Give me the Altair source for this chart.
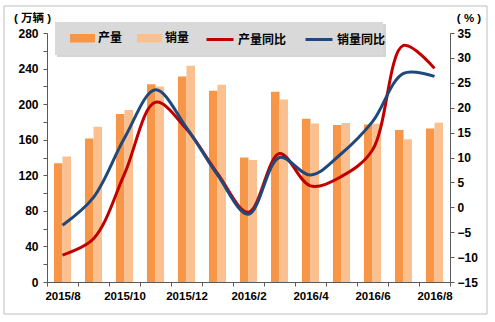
import altair as alt
import pandas as pd

FONT = "Liberation Sans, Noto Sans CJK SC"

months = ["2015/8", "2015/9", "2015/10", "2015/11", "2015/12", "2016/1", "2016/2",
          "2016/3", "2016/4", "2016/5", "2016/6", "2016/7", "2016/8"]
label_months = ["2015/8", "2015/10", "2015/12", "2016/2", "2016/4", "2016/6", "2016/8"]
production = [133.5, 161.5, 189.0, 222.5, 231.0, 215.0, 140.0, 214.0, 183.5, 176.5, 177.0, 171.0, 172.5]
sales = [141.0, 174.5, 193.5, 219.9, 243.1, 221.8, 137.3, 205.1, 178.2, 178.7, 177.9, 160.5, 179.0]
prod_yoy = [-9.6, -6.3, 6.7, 21.1, 15.7, 6.8, -1.0, 10.8, 4.3, 6.2, 11.5, 32.5, 27.9]
sales_yoy = [-3.6, 2.0, 13.9, 23.6, 16.0, 6.5, -1.4, 10.0, 6.5, 10.8, 17.2, 26.9, 26.3]
bar_series = ["产量", "销量"]
line_series = ["产量同比", "销量同比"]
bar_colors = ["#F79646", "#FAC090"]
line_colors = ["#C00000", "#1F497D"]

n = len(months)
bars_df = pd.DataFrame({
    "month": months * 2,
    "series": [bar_series[0]] * n + [bar_series[1]] * n,
    "value": production + sales,
})
lines_df = pd.DataFrame({
    "month": months * 2,
    "series": [line_series[0]] * n + [line_series[1]] * n,
    "value": prod_yoy + sales_yoy,
})
one = pd.DataFrame({"k": [0]})

x_scale = alt.Scale(domain=months, paddingInner=0, paddingOuter=0)
label_expr = "indexof(" + str(label_months) + ", datum.value) >= 0 ? datum.label : ''"

frame = alt.Chart(one).mark_rect(fill="white", stroke="#BFBFBF", strokeWidth=1).encode(
    x=alt.value(-43), x2=alt.value(440), y=alt.value(-27), y2=alt.value(281)
)
legend_shadow = alt.Chart(one).mark_rect(fill="#B8B8B8", opacity=0.6).encode(
    x=alt.value(10), x2=alt.value(339), y=alt.value(-9), y2=alt.value(24)
)
legend_box = alt.Chart(one).mark_rect(fill="#D9D9D9").encode(
    x=alt.value(8), x2=alt.value(336), y=alt.value(-11), y2=alt.value(22)
)

bars = alt.Chart(bars_df).mark_bar(opacity=1).encode(
    x=alt.X("month:N", sort=months, scale=x_scale,
            axis=alt.Axis(title=None, labelExpr=label_expr, labelAngle=0, tickBand="extent",
                          labelFont=FONT, labelFontSize=11.5, labelFontWeight="bold",
                          labelColor="#000000", labelPadding=4, tickSize=4,
                          tickColor="#595959", domainColor="#595959", labelFlush=False,
                          zindex=2)),
    xOffset=alt.XOffset("series:N", sort=bar_series,
                        scale=alt.Scale(domain=bar_series, paddingOuter=0.82, paddingInner=0)),
    y=alt.Y("value:Q", scale=alt.Scale(domain=[0, 280], nice=False),
            axis=alt.Axis(orient="left", values=list(range(0, 281, 20)),
                          labelExpr="datum.value % 40 == 0 ? datum.label : ''",
                          title="( 万辆 )", titleAngle=0, titleX=-15, titleY=-15,
                          titleAlign="center", titleBaseline="middle", titleFont=FONT,
                          titleFontSize=11.5, titleFontWeight="bold", titleColor="#000000",
                          labelFont=FONT, labelFontSize=12, labelFontWeight="bold",
                          labelColor="#000000", labelPadding=5, tickSize=4,
                          tickColor="#595959", domainColor="#595959", grid=False, zindex=2)),
    fill=alt.Fill("series:N", sort=bar_series,
                  scale=alt.Scale(domain=bar_series, range=bar_colors),
                  legend=alt.Legend(orient="none", legendX=23, legendY=-7.5, direction="horizontal",
                                    title=None, symbolType="M-1,-0.34H1V0.34H-1Z", symbolSize=625,
                                    symbolStrokeWidth=0, labelFont=FONT, labelFontSize=12,
                                    labelFontWeight="bold", labelColor="#000000", labelOffset=3,
                                    columnPadding=14, padding=0, zindex=2)),
)

lines = alt.Chart(lines_df).mark_line(interpolate="catmull-rom", strokeWidth=3).encode(
    x=alt.X("month:N", sort=months, scale=x_scale, bandPosition=0.5),
    y=alt.Y("value:Q", scale=alt.Scale(domain=[-15, 35], nice=False),
            axis=alt.Axis(orient="right", values=list(range(-15, 36, 5)),
                          title="( % )", titleAngle=0, titleX=18.5, titleY=-15,
                          titleAlign="center", titleBaseline="middle", titleFont=FONT,
                          titleFontSize=11.5, titleFontWeight="bold", titleColor="#000000",
                          labelFont=FONT, labelFontSize=12, labelFontWeight="bold",
                          labelColor="#000000", labelPadding=3, tickSize=4,
                          tickColor="#595959", domainColor="#595959", grid=False, zindex=2)),
    stroke=alt.Stroke("series:N", sort=line_series,
                      scale=alt.Scale(domain=line_series, range=line_colors),
                      legend=alt.Legend(orient="none", legendX=158, legendY=-8.5, direction="horizontal",
                                        title=None, symbolType="stroke", symbolSize=729,
                                        symbolStrokeWidth=3, labelFont=FONT, labelFontSize=12,
                                        labelFontWeight="bold", labelColor="#000000", labelOffset=3,
                                        columnPadding=12, padding=0, zindex=2)),
    detail="series:N",
)

chart = alt.layer(frame, legend_shadow, legend_box, bars, lines).resolve_scale(
    y="independent"
).properties(
    width=403, height=249,
    autosize=alt.AutoSizeParams(type="none"),
    padding={"left": 47, "top": 33, "right": 45, "bottom": 40},
    background="white",
).configure_view(stroke=None)

chart.save("out.html", embed_options={"renderer": "svg", "actions": False})
